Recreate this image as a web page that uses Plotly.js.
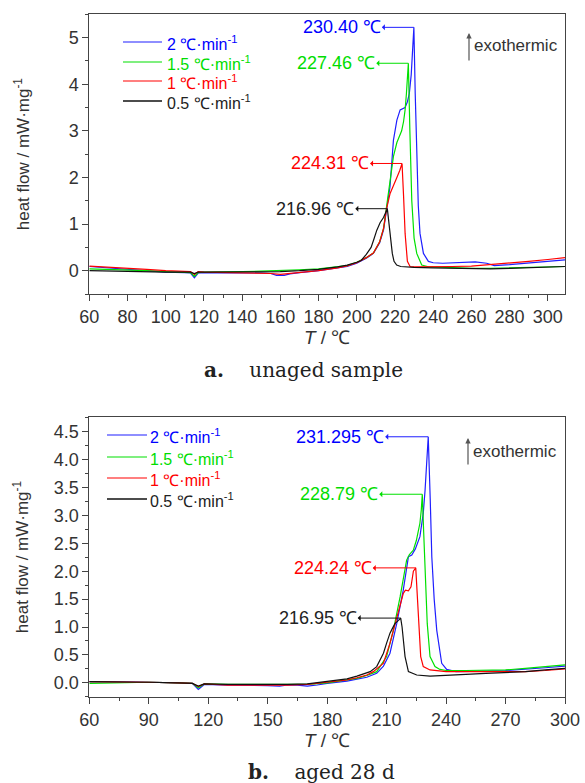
<!DOCTYPE html>
<html><head><meta charset="utf-8">
<script src="https://cdn.plot.ly/plotly-3.0.1.min.js"></script>
<style>html,body{margin:0;padding:0;background:#fff}#chart{width:585px;height:783px}</style>
</head><body><div id="chart"></div>
<script>
// ---------- data: (a) unaged sample ----------
const seriesNames = ['2 ℃·min<sup>-1</sup>', '1.5 ℃·min<sup>-1</sup>', '1 ℃·min<sup>-1</sup>', '0.5 ℃·min<sup>-1</sup>'];

const a_T_2 = [60,70,80,90,100,110,113,115,117,120,130,140,150,155,158,162,165,170,180,190,195,200,205,208.7,212,214,215.7,217.4,219.2,221,222.7,224,225.3,226.5,227.5,228.5,229.2,229.9,230.6,231.4,232.2,233.1,234.9,237.5,240,245,250,255,262,268,272,280,290,300,309];
const a_v_2 = [0.09,0.06,0.03,0.0,-0.03,-0.04,-0.05,-0.15,-0.05,-0.04,-0.05,-0.05,-0.05,-0.06,-0.1,-0.1,-0.07,-0.04,0.0,0.05,0.09,0.16,0.27,0.37,0.6,0.87,1.35,1.8,2.8,3.23,3.45,3.48,3.5,3.62,3.8,4.2,4.8,5.22,3.8,2.23,1.4,0.8,0.37,0.2,0.17,0.16,0.17,0.19,0.19,0.16,0.11,0.13,0.16,0.2,0.23];

const a_T_15 = [60,70,80,90,100,110,113,115,117,120,130,140,150,160,170,180,190,195,200,205,208.7,212,214,215.7,217.4,219.2,221,222.2,223.5,224.5,225.3,226,226.5,227.0,227.8,228.8,230,231.4,234,237,240,250,260,270,280,290,300,309];
const a_v_15 = [0.04,0.03,0.01,0.0,-0.02,-0.03,-0.04,-0.12,-0.04,-0.03,-0.03,-0.02,-0.01,0.0,0.02,0.04,0.08,0.11,0.18,0.28,0.38,0.62,0.9,1.4,1.85,2.45,2.75,2.88,3.0,3.2,3.45,3.8,4.1,4.45,3.0,1.5,0.7,0.37,0.12,0.09,0.08,0.06,0.05,0.05,0.06,0.07,0.08,0.09];

const a_T_1 = [60,70,80,90,100,110,113,115,117,120,130,140,150,155,160,165,170,180,190,195,200,205,208.7,212,214,215.7,217.4,218.3,219.5,221,222.5,223.7,224.5,225.3,226.5,227.9,230,240,250,260,270,280,290,300,309];
const a_v_1 = [0.1,0.08,0.05,0.03,0.0,-0.02,-0.02,-0.08,-0.02,-0.03,-0.04,-0.05,-0.05,-0.06,-0.08,-0.06,-0.04,0.0,0.06,0.1,0.17,0.28,0.38,0.62,0.9,1.35,1.65,1.73,1.85,2.0,2.15,2.3,1.6,0.8,0.2,0.09,0.08,0.08,0.09,0.1,0.13,0.16,0.2,0.24,0.28];

const a_T_05 = [60,70,80,90,100,110,113,115,117,120,130,140,150,160,170,180,190,195,200,202.3,205,207.5,209,210.5,212.2,214,216.0,216.9,217.7,218.6,219.5,220.9,223,230,240,250,260,270,280,290,300,309];
const a_v_05 = [0.0,-0.01,-0.02,-0.02,-0.03,-0.03,-0.03,-0.06,-0.03,-0.03,-0.03,-0.03,-0.03,-0.02,0.0,0.03,0.08,0.12,0.18,0.22,0.35,0.5,0.68,0.87,1.03,1.14,1.33,1.0,0.67,0.37,0.2,0.12,0.09,0.07,0.06,0.05,0.04,0.04,0.05,0.06,0.07,0.09];

const a_peakLabels = ['230.40 ℃', '227.46 ℃', '224.31 ℃', '216.96 ℃'];

// ---------- data: (b) aged 28 d ----------
const b_T_2 = [60,75,90,105,112,115,118,130,140,150,156,160,165,170,175,180,190,195,200,205,208.4,211.7,215.1,218.4,221,222.7,224.5,226.8,228.5,229.4,230.3,231.0,232,232.8,234,235.3,237.8,240.3,245,250,260,270,280,290,300];
const b_v_2 = [0.02,0.02,0.01,0.0,-0.01,-0.12,-0.03,-0.04,-0.04,-0.05,-0.06,-0.04,-0.04,-0.06,-0.04,-0.01,0.03,0.06,0.1,0.17,0.3,0.53,1.06,1.66,2.26,2.29,2.4,2.62,3.04,3.45,4.0,4.41,3.3,2.26,1.5,0.94,0.35,0.24,0.2,0.2,0.21,0.22,0.24,0.27,0.3];

const b_T_15 = [60,75,90,105,112,115,118,130,140,150,160,170,180,190,195,200,205,210,213.4,216.8,220.1,221.5,223.5,225,226.8,227.5,228.0,228.7,229.4,230.5,231.9,234.4,236.9,240,250,260,270,280,290,300];
const b_v_15 = [-0.01,0.0,0.01,0.0,-0.01,-0.09,-0.02,-0.03,-0.03,-0.04,-0.04,-0.03,0.0,0.05,0.08,0.13,0.2,0.47,0.94,1.54,2.2,2.3,2.38,2.55,2.86,3.1,3.38,2.7,1.96,1.06,0.47,0.29,0.24,0.22,0.22,0.22,0.23,0.26,0.29,0.32];

const b_T_1 = [60,75,90,105,112,115,118,130,140,150,160,170,180,190,195,200,203.3,208.4,211.7,215.1,218.4,219.5,221,222.3,223.5,224.7,225.4,226,227.2,228.5,231.9,240,250,260,270,280,290,300];
const b_v_1 = [0.02,0.02,0.01,0.0,-0.01,-0.07,-0.02,-0.04,-0.04,-0.05,-0.04,-0.03,0.01,0.05,0.09,0.14,0.2,0.35,0.71,1.18,1.6,1.66,1.65,1.72,2.0,2.06,1.6,1.06,0.47,0.29,0.23,0.2,0.2,0.19,0.19,0.2,0.22,0.25];

const b_T_05 = [60,75,90,105,112,115,118,130,140,150,160,170,180,190,195,200,201.7,205,208.4,210,211.7,213,214.2,216,217.1,217.8,218.4,219.3,221,225.2,231.9,240,250,260,270,280,290,300];
const b_v_05 = [0.02,0.02,0.01,0.0,-0.01,-0.06,-0.02,-0.03,-0.03,-0.04,-0.03,-0.02,0.02,0.07,0.12,0.18,0.2,0.29,0.53,0.71,0.89,0.98,1.06,1.12,1.16,1.0,0.77,0.47,0.2,0.14,0.12,0.13,0.15,0.17,0.18,0.2,0.23,0.26];

const b_peakLabels = ['231.295 ℃', '228.79 ℃', '224.24 ℃', '216.95 ℃'];

const lineColors = ['#1f1fff', '#00e000', '#ff0000', '#111111'];
const textColors = ['#0000ff', '#00dd00', '#ff0000', '#222222'];

// ---------- build ----------
const FONT = '"Liberation Sans", Arial, sans-serif';
const SERIF = '"DejaVu Serif", "Liberation Serif", serif';
const W = 585, H = 783;
const px = x => x / W, py = y => 1 - y / H;

const aT = [a_T_2, a_T_15, a_T_1, a_T_05], aV = [a_v_2, a_v_15, a_v_1, a_v_05];
const bT = [b_T_2, b_T_15, b_T_1, b_T_05], bV = [b_v_2, b_v_15, b_v_1, b_v_05];

const traces = [];
for (let i = 0; i < 4; i++) {
  traces.push({x: aT[i], y: aV[i], xaxis: 'x', yaxis: 'y', type: 'scatter', mode: 'lines',
    name: seriesNames[i], line: {color: lineColors[i], width: 1.2}, showlegend: false});
}
for (let i = 0; i < 4; i++) {
  traces.push({x: bT[i], y: bV[i], xaxis: 'x2', yaxis: 'y2', type: 'scatter', mode: 'lines',
    name: seriesNames[i], line: {color: lineColors[i], width: 1.2}, showlegend: false});
}

function peak(T, V) {
  let k = 0; for (let j = 1; j < V.length; j++) if (V[j] > V[k]) k = j;
  return [T[k], V[k]];
}

const annotations = [];
const shapes = [];
function peakAnns(Ts, Vs, labels, xr, yr, ax) {
  for (let i = 0; i < 4; i++) {
    const [pt, pv] = peak(Ts[i], Vs[i]);
    annotations.push({x: pt, y: pv, xref: xr, yref: yr, ax: ax, ay: 0,
      text: labels[i], showarrow: true, arrowside: 'start', arrowhead: 2, arrowsize: 0.9,
      arrowwidth: 1, arrowcolor: lineColors[i], xanchor: 'right', yanchor: 'middle',
      font: {family: FONT, size: 18, color: textColors[i]}, borderpad: 0});
  }
}
peakAnns(aT, aV, a_peakLabels, 'x', 'y', -32);
peakAnns(bT, bV, b_peakLabels, 'x2', 'y2', -43);

// legends (drawn manually so each entry text matches its colour)
function legend(x0, x1, tx, ys) {
  for (let i = 0; i < 4; i++) {
    shapes.push({type: 'line', xref: 'paper', yref: 'paper', x0: px(x0), x1: px(x1), y0: py(ys[i]), y1: py(ys[i]),
      line: {color: lineColors[i], width: i === 3 ? 1.6 : 1.2}});
    annotations.push({xref: 'paper', yref: 'paper', x: px(tx), y: py(ys[i] + 1), xanchor: 'left', yanchor: 'middle',
      text: seriesNames[i], showarrow: false, font: {family: FONT, size: 16, color: textColors[i]}, borderpad: 0});
  }
}
legend(123, 162, 166, [42, 62, 81, 101]);
legend(107, 147, 149, [435, 457, 478, 499]);

// exothermic marks
function exo(xArrow, yTip, yTail, yText) {
  annotations.push({xref: 'paper', yref: 'paper', x: px(xArrow), y: py(yTip), ax: px(xArrow), ay: py(yTail),
    axref: 'paper', ayref: 'paper', text: '', showarrow: true, arrowhead: 2, arrowsize: 0.9, arrowwidth: 1.2, arrowcolor: '#555'});
  annotations.push({xref: 'paper', yref: 'paper', x: px(xArrow + 3), y: py(yText), xanchor: 'left', yanchor: 'middle',
    text: 'exothermic', showarrow: false, font: {family: FONT, size: 17, color: '#333'}});
}
exo(469, 33, 62, 46);
exo(468, 438, 466, 452);

// captions
annotations.push({xref: 'paper', yref: 'paper', x: px(303), y: py(370), xanchor: 'center', yanchor: 'middle', showarrow: false,
  text: '<b>a.</b>    unaged sample', font: {family: SERIF, size: 20, color: '#222'}});
annotations.push({xref: 'paper', yref: 'paper', x: px(321), y: py(772), xanchor: 'center', yanchor: 'middle', showarrow: false,
  text: '<b>b.</b>    aged 28 d', font: {family: SERIF, size: 20, color: '#222'}});

const axCommon = {showgrid: false, zeroline: false, showline: true, linecolor: '#444', linewidth: 1, mirror: true,
  ticks: 'outside', ticklen: 6, tickwidth: 1, tickcolor: '#444',
  tickfont: {family: FONT, size: 18, color: '#333'}};
const xdom = [px(89.3), px(565)];

const layout = {
  width: W, height: H, margin: {l: 0, r: 0, t: 0, b: 0},
  paper_bgcolor: '#fff', plot_bgcolor: '#fff', showlegend: false,
  xaxis: Object.assign({}, axCommon, {domain: xdom, anchor: 'y', range: [60, 309], tick0: 60, dtick: 20,
    minor: {dtick: 10, ticks: 'outside', ticklen: 3, tickcolor: '#444'},
    title: {text: '<i>T</i> / ℃', font: {family: FONT, size: 19, color: '#333'}, standoff: 0}}),
  yaxis: Object.assign({}, axCommon, {domain: [py(294), py(14.3)], anchor: 'x', range: [-0.5, 5.5], dtick: 1, tick0: 0,
    minor: {dtick: 0.5, ticks: 'outside', ticklen: 3, tickcolor: '#444'},
    title: {text: 'heat flow / mW·mg<sup>-1</sup>', font: {family: FONT, size: 17, color: '#333'}, standoff: 34}}),
  xaxis2: Object.assign({}, axCommon, {domain: xdom, anchor: 'y2', range: [60, 300], tick0: 60, dtick: 30,
    minor: {dtick: 15, ticks: 'outside', ticklen: 3, tickcolor: '#444'},
    title: {text: '<i>T</i> / ℃', font: {family: FONT, size: 19, color: '#333'}, standoff: 2}}),
  yaxis2: Object.assign({}, axCommon, {domain: [py(697.3), py(416.7)], anchor: 'x2', range: [-0.26, 4.77], dtick: 0.5, tick0: 0,
    tickformat: '.1f', minor: {dtick: 0.25, ticks: 'outside', ticklen: 3, tickcolor: '#444'},
    title: {text: 'heat flow / mW·mg<sup>-1</sup>', font: {family: FONT, size: 17, color: '#333'}, standoff: 20}}),
  annotations: annotations, shapes: shapes
};

Plotly.newPlot('chart', traces, layout, {displayModeBar: false, staticPlot: true});
</script></body></html>
